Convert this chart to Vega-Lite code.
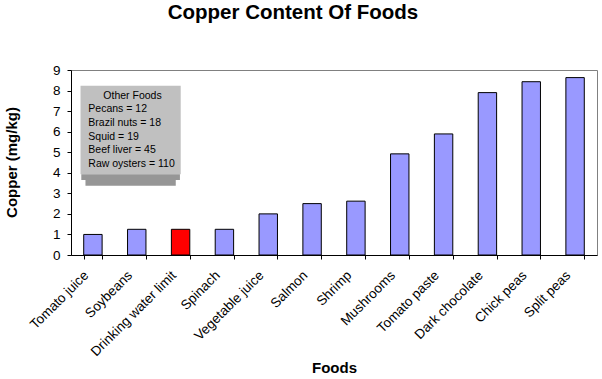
{
  "$schema": "https://vega.github.io/schema/vega-lite/v6.json",
  "width": 526,
  "height": 185,
  "autosize": "none",
  "padding": {"left": 71, "top": 70, "right": 5, "bottom": 124},
  "background": "white",
  "datasets": {
    "foods": [
      {"food": "Tomato juice", "copper": 1.0},
      {"food": "Soybeans", "copper": 1.25},
      {"food": "Drinking water limit", "copper": 1.25},
      {"food": "Spinach", "copper": 1.25},
      {"food": "Vegetable juice", "copper": 2.0},
      {"food": "Salmon", "copper": 2.5},
      {"food": "Shrimp", "copper": 2.62},
      {"food": "Mushrooms", "copper": 4.92},
      {"food": "Tomato paste", "copper": 5.89},
      {"food": "Dark chocolate", "copper": 7.9},
      {"food": "Chick peas", "copper": 8.43},
      {"food": "Split peas", "copper": 8.63}
    ],
    "otherFoods": [
      {"food": "Pecans", "copper": 12},
      {"food": "Brazil nuts", "copper": 18},
      {"food": "Squid", "copper": 19},
      {"food": "Beef liver", "copper": 45},
      {"food": "Raw oysters", "copper": 110}
    ]
  },
  "config": {
    "view": {"stroke": "#808080", "strokeWidth": 1},
    "font": "Liberation Sans",
    "axis": {
      "labelFont": "Liberation Sans",
      "titleFont": "Liberation Sans",
      "labelColor": "black",
      "titleColor": "black",
      "domainColor": "black",
      "tickColor": "black",
      "grid": false
    }
  },
  "title": {
    "text": "Copper Content Of Foods",
    "font": "Liberation Sans",
    "fontSize": 20.5,
    "fontWeight": "bold",
    "color": "black",
    "anchor": "middle",
    "frame": "group",
    "baseline": "alphabetic",
    "offset": 24,
    "dx": -41
  },
  "layer": [
    {
      "data": {"name": "foods"},
      "mark": {"type": "bar", "stroke": "black", "strokeWidth": 1},
      "encoding": {
        "x": {
          "field": "food",
          "type": "nominal",
          "sort": null,
          "scale": {"paddingInner": 0.58, "paddingOuter": 0.29},
          "axis": {
            "title": "Foods",
            "titleFontSize": 15,
            "titleFontWeight": "bold",
            "titleY": 117,
            "titleBaseline": "alphabetic",
            "labelAngle": -45,
            "labelFontSize": 13.5,
            "labelPadding": 9,
            "labelOffset": -12,
            "tickBand": "extent",
            "tickSize": 4,
            "labelOverlap": false
          }
        },
        "y": {
          "field": "copper",
          "type": "quantitative",
          "scale": {"domain": [0, 9], "nice": false},
          "axis": {
            "title": "Copper (mg/kg)",
            "titleFontSize": 15,
            "titleFontWeight": "bold",
            "titleX": -60,
            "titleY": 92,
            "titleAlign": "center",
            "titleBaseline": "middle",
            "titleAngle": -90,
            "values": [0, 1, 2, 3, 4, 5, 6, 7, 8, 9],
            "labelFontSize": 13.5,
            "labelPadding": 7,
            "tickSize": 4
          }
        },
        "fill": {
          "condition": {"test": "datum.food === 'Drinking water limit'", "value": "#FF0000"},
          "value": "#9999FF"
        }
      }
    },
    {
      "layer": [
        {
          "data": {"values": [{}]},
          "mark": {"type": "rect", "fill": "#C0C0C0"},
          "encoding": {
            "x": {"datum": 0.217, "type": "quantitative", "scale": {"domain": [0, 12], "nice": false, "zero": false}, "axis": null},
            "x2": {"datum": 2.503},
            "y": {"datum": -0.723, "type": "quantitative", "scale": {"domain": [-1.869, 11.635], "nice": false, "zero": false, "reverse": true}, "axis": null},
            "y2": {"datum": 5.745}
          }
        },
        {
          "data": {"values": [{}]},
          "mark": {"type": "rect", "fill": "#969696"},
          "encoding": {
            "x": {"datum": 0.235, "type": "quantitative"},
            "x2": {"datum": 2.485},
            "y": {"datum": 5.745, "type": "quantitative"},
            "y2": {"datum": 6.16}
          }
        },
        {
          "data": {"values": [{}]},
          "mark": {"type": "rect", "fill": "#969696"},
          "encoding": {
            "x": {"datum": 0.33, "type": "quantitative"},
            "x2": {"datum": 2.39},
            "y": {"datum": 6.16, "type": "quantitative"},
            "y2": {"datum": 6.577}
          }
        },
        {
          "data": {"values": [{}]},
          "mark": {"type": "text", "text": "Other Foods", "fontSize": 10.5, "align": "center", "baseline": "middle", "color": "black", "font": "Liberation Sans"},
          "encoding": {
            "x": {"datum": 1.403, "type": "quantitative"},
            "y": {"datum": 0, "type": "quantitative"}
          }
        },
        {
          "data": {"name": "otherFoods"},
          "transform": [
            {"window": [{"op": "row_number", "as": "line"}], "sort": [{"field": "copper", "order": "ascending"}]},
            {"calculate": "datum.food + ' = ' + datum.copper", "as": "label"}
          ],
          "mark": {"type": "text", "fontSize": 10.5, "align": "left", "baseline": "middle", "color": "black", "font": "Liberation Sans"},
          "encoding": {
            "x": {"datum": 0.395, "type": "quantitative"},
            "y": {"field": "line", "type": "quantitative"},
            "text": {"field": "label"}
          }
        }
      ]
    }
  ],
  "resolve": {"scale": {"x": "independent", "y": "independent"}}
}
